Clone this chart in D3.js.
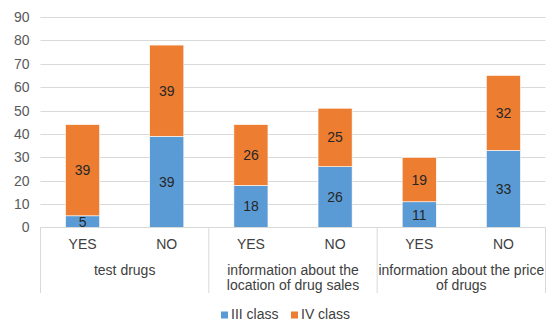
<!DOCTYPE html>
<html>
<head>
<meta charset="utf-8">
<script src="https://cdn.jsdelivr.net/npm/d3@7"></script>
<style>
  html, body { margin: 0; padding: 0; background: #fff; }
  svg { display: block; font-family: "Liberation Sans", Arial, sans-serif; }
</style>
</head>
<body>
<svg id="chart" width="550" height="321"></svg>
<script>
// Survey answers grouped by question, stacked by class
const groups = ["test drugs", "information about the location of drug sales", "information about the price of drugs"];
const groupLines = [["test drugs"], ["information about the", "location of drug sales"], ["information about the price", "of drugs"]];
const answers = ["YES", "NO"];
const classIII = [5, 39, 18, 26, 11, 33];
const classIV = [39, 39, 26, 25, 19, 32];
const seriesNames = ["III class", "IV class"];
const seriesColors = ["#5b9bd5", "#ed7d31"];
const yTicks = [0, 10, 20, 30, 40, 50, 60, 70, 80, 90];

const svg = d3.select("#chart");
const x0 = 40.5, x1 = 545.5;
const yTop = 17, yBottom = 227.5;
const fs = 14;

const y = d3.scaleLinear().domain([0, 90]).range([yBottom, yTop]);

// one slot per (question, answer) pair
const slots = [];
groups.forEach((g, gi) => answers.forEach((a, ai) => slots.push({ g: gi, a, key: gi + "-" + a })));
const x = d3.scaleBand().domain(slots.map(s => s.key)).range([x0, x1]).paddingInner(0.595).paddingOuter(0.2975);
const xg = d3.scaleBand().domain(groups).range([x0, x1]);

// gridlines
svg.append("g").selectAll("line").data(yTicks.filter(t => t > 0)).join("line")
  .attr("x1", x0).attr("x2", x1)
  .attr("y1", d => Math.round(y(d)) + 0.5).attr("y2", d => Math.round(y(d)) + 0.5)
  .attr("stroke", "#d9d9d9").attr("stroke-width", 1);

// y axis labels
const yAxis = d3.axisLeft(y).tickValues(yTicks).tickSize(0).tickPadding(11);
const ya = svg.append("g").attr("transform", `translate(${x0},0)`).call(yAxis);
ya.select(".domain").remove();
ya.selectAll("text").attr("font-size", fs).attr("fill", "#595959").attr("font-family", "Liberation Sans, Arial, sans-serif");

// stacked bars
const rows = slots.map((s, i) => ({ key: s.key, III: classIII[i], IV: classIV[i] }));
const stack = d3.stack().keys(["III", "IV"])(rows);
stack.forEach((layer, li) => {
  const g = svg.append("g");
  g.selectAll("rect").data(layer).join("rect")
    .attr("x", d => x(d.data.key))
    .attr("width", x.bandwidth())
    .attr("y", d => y(d[1]))
    .attr("height", d => y(d[0]) - y(d[1]))
    .attr("fill", seriesColors[li])
    .attr("stroke", "#fff").attr("stroke-width", 0.6);
  g.selectAll("text").data(layer).join("text")
    .attr("x", d => x(d.data.key) + x.bandwidth() / 2)
    .attr("y", d => (y(d[0]) + y(d[1])) / 2 + 5)
    .attr("text-anchor", "middle")
    .attr("font-size", fs).attr("fill", "#262626")
    .text(d => d[1] - d[0]);
});

// category axis baseline and group separators
svg.append("line").attr("x1", x0).attr("x2", x1).attr("y1", yBottom).attr("y2", yBottom)
  .attr("stroke", "#d9d9d9").attr("stroke-width", 1);
const seps = groups.map(g => xg(g)).concat([x1]);
svg.append("g").selectAll("line").data(seps).join("line")
  .attr("x1", d => d).attr("x2", d => d)
  .attr("y1", yBottom).attr("y2", 293)
  .attr("stroke", "#d9d9d9").attr("stroke-width", 1);

// answer labels
svg.append("g").selectAll("text").data(slots).join("text")
  .attr("x", d => x(d.key) + x.bandwidth() / 2)
  .attr("y", 249)
  .attr("text-anchor", "middle").attr("font-size", fs).attr("fill", "#404040")
  .text(d => d.a);

// question labels
const gl = svg.append("g").selectAll("text").data(groups).join("text")
  .attr("x", d => xg(d) + xg.bandwidth() / 2)
  .attr("text-anchor", "middle").attr("font-size", fs).attr("fill", "#404040");
gl.each(function(d, i) {
  const lines = groupLines[i];
  d3.select(this).selectAll("tspan").data(lines).join("tspan")
    .attr("x", xg(d) + xg.bandwidth() / 2)
    .attr("y", (l, li) => 274.5 + li * 15.5)
    .text(l => l);
});

// legend
const legend = svg.append("g");
const legendX = [221, 291];
seriesNames.forEach((n, i) => {
  legend.append("rect").attr("x", legendX[i]).attr("y", 311.5).attr("width", 7).attr("height", 7).attr("fill", seriesColors[i]);
  legend.append("text").attr("x", legendX[i] + 10).attr("y", 319).attr("font-size", fs).attr("fill", "#404040").text(n);
});
</script>
</body>
</html>
